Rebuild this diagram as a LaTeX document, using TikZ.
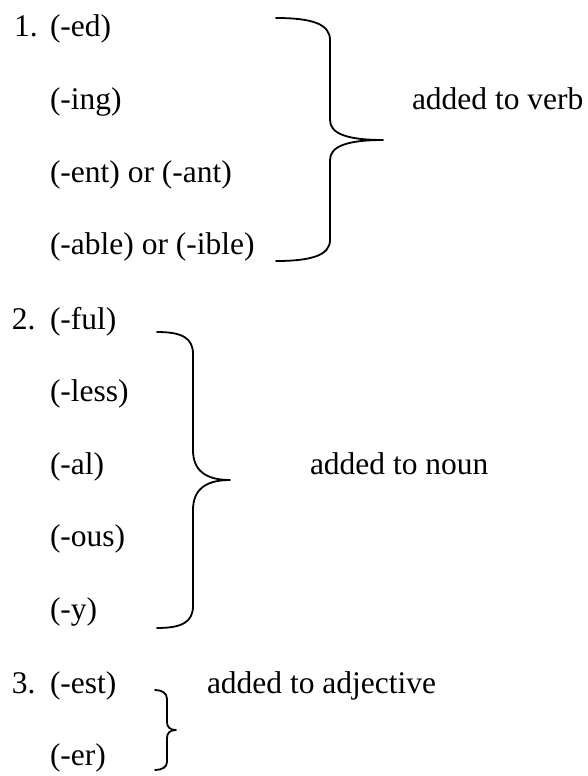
\documentclass[tikz,border=0pt]{standalone}
\usepackage{fontspec}
\setmainfont{Liberation Serif}
\begin{document}
\begin{tikzpicture}[x=1pt,y=-1pt,
  txt/.style={anchor=base west,inner sep=0pt,outer sep=0pt,font=\fontsize{31.5pt}{36pt}\selectfont},
  brace/.style={line width=1.8pt,line cap=round,line join=round}]
\useasboundingbox (0,0) rectangle (587,776);
% group 1
\node[txt] (n1) at (14,37) {1.};
\node[txt] (a1) at (50,37) {(-ed)};
\node[txt] (a2) at (50,109.6) {(-ing)};
\node[txt] (a3) at (50,182.2) {(-ent) or (-ant)};
\node[txt] (a4) at (50,254.8) {(-able) or (-ible)};
\node[txt] (l1) at (412,109.6) {added to verb};
% group 2
\node[txt] (n2) at (12,329) {2.};
\node[txt] (b1) at (50,329) {(-ful)};
\node[txt] (b2) at (50,401.5) {(-less)};
\node[txt] (b3) at (50,474) {(-al)};
\node[txt] (b4) at (50,546.5) {(-ous)};
\node[txt] (b5) at (50,619) {(-y)};
\node[txt] (l2) at (310,474) {added to noun};
% group 3
\node[txt] (n3) at (12,693) {3.};
\node[txt] (c1) at (50,693) {(-est)};
\node[txt] (c2) at (50,765) {(-er)};
\node[txt] (l3) at (207,693) {added to adjective};
% brace 1
\draw[brace] (276,18) .. controls (312,18) and (330,24) .. (330,40)
  -- (330,120) .. controls (330,134) and (348,140) .. (383,140)
  .. controls (348,140) and (330,146) .. (330,160)
  -- (330,240) .. controls (330,255) and (312,261) .. (276,261);
% brace 2
\draw[brace] (157,332) .. controls (182,332) and (193,338) .. (193,354)
  -- (193,450) .. controls (193,470) and (205,480) .. (230,480)
  .. controls (205,480) and (193,490) .. (193,510)
  -- (193,606) .. controls (193,622) and (182,628) .. (157,628);
% brace 3
\draw[brace] (155,690) .. controls (162,690) and (167,693) .. (167,699)
  -- (167,722) .. controls (167,727) and (170,730) .. (176,730)
  .. controls (170,730) and (167,733) .. (167,738)
  -- (167,762) .. controls (167,767) and (162,770) .. (155,770);
\end{tikzpicture}
\end{document}
